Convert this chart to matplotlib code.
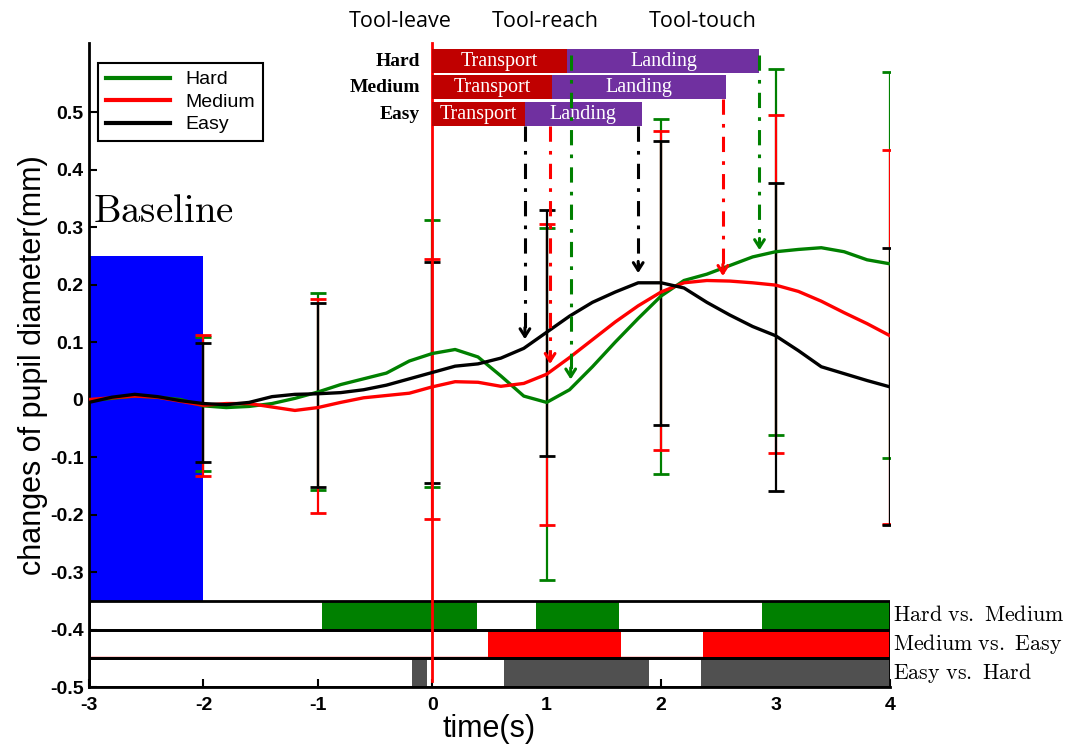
import numpy as np
import matplotlib
matplotlib.use('Agg')
import matplotlib.pyplot as plt
from matplotlib.patches import Rectangle

plt.rcParams['mathtext.fontset'] = 'cm'
plt.rcParams['font.family'] = ['Liberation Sans', 'DejaVu Sans']

# pupil curves (mm), read every 0.2 s
time = [-3.0, -2.8, -2.6, -2.4, -2.2, -2.0, -1.8, -1.6, -1.4, -1.2, -1.0, -0.8,
        -0.6, -0.4, -0.2, 0.0, 0.2, 0.4, 0.6, 0.8, 1.0, 1.2, 1.4, 1.6,
        1.8, 2.0, 2.2, 2.4, 2.6, 2.8, 3.0, 3.2, 3.4, 3.6, 3.8, 4.0]
hard = [-0.002, 0.002, 0.006, 0.004, 0.0, -0.011, -0.014, -0.012, -0.007, 0.002, 0.013, 0.026,
        0.036, 0.046, 0.067, 0.080, 0.087, 0.074, 0.041, 0.006, -0.005, 0.017, 0.057, 0.100,
        0.141, 0.180, 0.207, 0.218, 0.233, 0.248, 0.257, 0.261, 0.264, 0.257, 0.243, 0.236]
medium = [0.0, 0.003, 0.006, 0.004, -0.003, -0.010, -0.007, -0.007, -0.013, -0.019, -0.014, -0.005,
          0.003, 0.007, 0.011, 0.022, 0.031, 0.030, 0.023, 0.028, 0.044, 0.073, 0.104, 0.135,
          0.163, 0.187, 0.203, 0.207, 0.206, 0.203, 0.199, 0.188, 0.171, 0.151, 0.132, 0.111]
easy = [-0.005, 0.004, 0.009, 0.005, -0.002, -0.007, -0.009, -0.005, 0.005, 0.009, 0.010, 0.012,
        0.017, 0.025, 0.036, 0.047, 0.058, 0.062, 0.072, 0.089, 0.117, 0.145, 0.169, 0.187,
        0.203, 0.203, 0.194, 0.169, 0.147, 0.127, 0.111, 0.085, 0.057, 0.045, 0.033, 0.022]

# error bars: upper / lower ends
err_x = [-2, -1, 0, 1, 2, 3, 4]
hard_hi = [0.108, 0.186, 0.313, 0.298, 0.487, 0.574, 0.570]
hard_lo = [-0.125, -0.157, -0.153, -0.313, -0.129, -0.061, -0.101]
medium_hi = [0.113, 0.174, 0.245, 0.305, 0.467, 0.494, 0.434]
medium_lo = [-0.133, -0.198, -0.207, -0.219, -0.087, -0.093, -0.217]
easy_hi = [0.099, 0.168, 0.240, 0.330, 0.450, 0.376, 0.264]
easy_lo = [-0.108, -0.153, -0.146, -0.098, -0.045, -0.159, -0.219]

# significant intervals (s)
hard_vs_medium = [(-0.96, 0.39), (0.91, 1.63), (2.88, 4.0)]
medium_vs_easy = [(0.49, 1.65), (2.37, 4.0)]
easy_vs_hard = [(-0.18, -0.05), (0.63, 1.89), (2.35, 4.0)]

# movement phases (s)
levels = ['Hard', 'Medium', 'Easy']
transport_end = [1.18, 1.045, 0.81]
landing_end = [2.86, 2.57, 1.83]

# event arrows
arrow_x = [0.81, 1.03, 1.21, 1.80, 2.54, 2.86]
arrow_tip = [0.10, 0.057, 0.03, 0.215, 0.21, 0.255]
arrow_top = [0.475, 0.475, 0.60, 0.475, 0.522, 0.60]
arrow_col = ['black', 'red', '#008000', 'black', 'red', '#008000']

events = ['Tool-leave', 'Tool-reach', 'Tool-touch']
event_x = [-0.28, 0.99, 2.36]

fig = plt.figure(figsize=(10.73, 7.52), dpi=100)
ax = fig.add_axes([0.0829, 0.0864, 0.7465, 0.8564])
ax.set_xlim(-3, 4)
ax.set_ylim(-0.5, 0.62)

# baseline block
ax.add_patch(Rectangle((-3, -0.35), 1, 0.6, color='blue', lw=0, zorder=1))
ax.text(-2.965, 0.326, r'$\mathrm{Baseline}$', fontsize=28, va='center', ha='left')

# significance rows
ax.plot([-3, 4], [-0.4485, -0.4485], color='red', lw=1, zorder=2.2)
rows = [(hard_vs_medium, '#008000', -0.40, 'Hard vs. Medium'),
        (medium_vs_easy, '#ff0000', -0.45, 'Medium vs. Easy'),
        (easy_vs_hard, '#505050', -0.50, 'Easy vs. Hard')]
for segs, c, y0, name in rows:
    ax.broken_barh([(a, b - a) for a, b in segs], (y0, 0.05), facecolors=c, zorder=2)
    ax.add_patch(Rectangle((-3, y0), 7, 0.05, fill=False, ec='black', lw=2, zorder=2.5))
    ax.text(4.025, y0 + 0.025, r'$\mathrm{' + name.replace(' ', r'\ ') + '}$',
            fontsize=15.8, va='center', ha='left')

# time zero
ax.plot([0, 0], [-0.49, 0.62], color='red', lw=2, zorder=3.5, clip_on=False)

# error bars
for hi, lo, c in [(hard_hi, hard_lo, '#008000'), (medium_hi, medium_lo, 'red'),
                  (easy_hi, easy_lo, 'black')]:
    hi = np.array(hi); lo = np.array(lo)
    mid = (hi + lo) / 2
    ax.errorbar(err_x, mid, yerr=[mid - lo, hi - mid], fmt='none', ecolor=c,
                elinewidth=1.6, capsize=5.5, capthick=2, zorder=3)

# curves
ax.plot(time, hard, color='#008000', lw=2.4, label='Hard', zorder=4)
ax.plot(time, medium, color='red', lw=2.4, label='Medium', zorder=4)
ax.plot(time, easy, color='black', lw=2.4, label='Easy', zorder=4)

# phase bars
bh = 0.042
for lvl, y0, te, le in zip(levels, [0.567, 0.522, 0.475], transport_end, landing_end):
    yc = y0 + bh / 2
    ax.barh(yc, te, left=0, height=bh, color='#c00000', zorder=5)
    ax.barh(yc, le - te, left=te, height=bh, color='#7030a0', zorder=5)
    ax.text(te / 2, yc, 'Transport', color='white', fontfamily='Liberation Serif',
            fontsize=14.5, ha='center', va='center', zorder=6)
    ax.text((te + le) / 2, yc, 'Landing', color='white', fontfamily='Liberation Serif',
            fontsize=14.5, ha='center', va='center', zorder=6)
    ax.text(-0.11, yc, lvl, fontfamily='Liberation Serif', fontweight='bold',
            fontsize=14, ha='right', va='center')

# arrows
for x, tip, top, c in zip(arrow_x, arrow_tip, arrow_top, arrow_col):
    ax.plot([x, x], [top, tip + 0.01], color=c, lw=2.2, dashes=(5, 3, 1.2, 3), zorder=6)
    ax.annotate('', xy=(x, tip), xytext=(x, tip + 0.03),
                arrowprops=dict(arrowstyle='->,head_length=0.55,head_width=0.35',
                                color=c, lw=2.2), zorder=6)

for name, x in zip(events, event_x):
    ax.text(x, 0.658, name, fontfamily='Open Sans', fontsize=15.5,
            ha='center', va='center')

ax.spines['top'].set_visible(False)
ax.spines['right'].set_visible(False)
ax.spines['left'].set_linewidth(2)
ax.spines['bottom'].set_linewidth(2)

ax.set_xticks(range(-3, 5))
ax.set_xticklabels([str(v) for v in range(-3, 5)], fontweight='bold')
yt = [-0.5, -0.4, -0.3, -0.2, -0.1, 0, 0.1, 0.2, 0.3, 0.4, 0.5]
ax.set_yticks(yt)
ax.set_yticklabels(['0' if v == 0 else f'{v:.1f}' for v in yt], fontweight='bold')
ax.tick_params(direction='in', length=6, width=1.5, labelsize=14)
ax.tick_params(axis='x', pad=7)
ax.tick_params(axis='y', pad=4)

ax.set_xlabel('time(s)', fontsize=22, labelpad=0)
ax.set_ylabel('changes of pupil diameter(mm)', fontsize=22, labelpad=1)

leg = ax.legend(loc='upper left', bbox_to_anchor=(0.011, 0.969), fontsize=14,
                fancybox=False, edgecolor='black', framealpha=1, handlelength=3.3,
                borderaxespad=0, borderpad=0.4, labelspacing=0.25)
leg.get_frame().set_linewidth(1.5)
for line in leg.get_lines():
    line.set_linewidth(3)

fig.savefig('out.png', dpi=100)
